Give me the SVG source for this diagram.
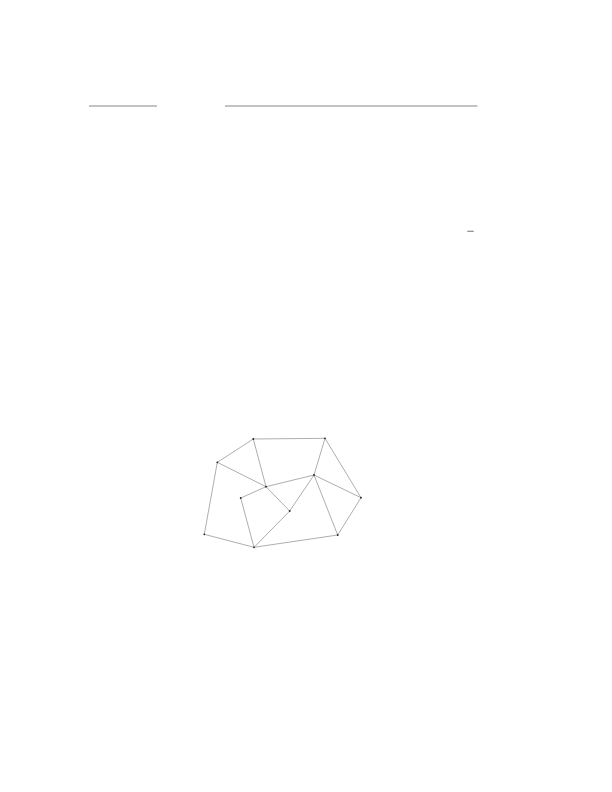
<svg xmlns="http://www.w3.org/2000/svg" width="612" height="792" viewBox="0 0 612 792">
<style>
.rule{stroke:#888;stroke-width:1.2;fill:none}
.e{stroke:#999;stroke-width:0.8;fill:none}
.n{fill:#222}
</style>
<rect width="612" height="792" fill="#fff"/>
<g id="rules">
<line class="rule" x1="89" y1="106" x2="157" y2="106"/>
<line class="rule" x1="225" y1="106" x2="477.5" y2="106"/>
<line class="rule" x1="467.3" y1="231.3" x2="473.7" y2="231.3"/>
</g>
<g id="connectors">
<line class="e" x1="253.3" y1="439" x2="325" y2="438.3"/>
<line class="e" x1="253.3" y1="439" x2="217.3" y2="462.3"/>
<line class="e" x1="253.3" y1="439" x2="266" y2="486.7"/>
<line class="e" x1="325" y1="438.3" x2="314" y2="475"/>
<line class="e" x1="325" y1="438.3" x2="361" y2="497.7"/>
<line class="e" x1="217.3" y1="462.3" x2="266" y2="486.7"/>
<line class="e" x1="217.3" y1="462.3" x2="204.3" y2="534.3"/>
<line class="e" x1="314" y1="475" x2="266" y2="486.7"/>
<line class="e" x1="314" y1="475" x2="361" y2="497.7"/>
<line class="e" x1="314" y1="475" x2="337.7" y2="535"/>
<line class="e" x1="314" y1="475" x2="289.7" y2="511"/>
<line class="e" x1="289.7" y1="511" x2="254" y2="547.3"/>
<line class="e" x1="266" y1="486.7" x2="289.7" y2="511"/>
<line class="e" x1="266" y1="486.7" x2="240.7" y2="498"/>
<line class="e" x1="240.7" y1="498" x2="254" y2="547.3"/>
<line class="e" x1="204.3" y1="534.3" x2="254" y2="547.3"/>
<line class="e" x1="254" y1="547.3" x2="337.7" y2="535"/>
<line class="e" x1="337.7" y1="535" x2="361" y2="497.7"/>
</g>
<g id="nA"><circle class="n" cx="253.3" cy="439" r="0.9"/></g>
<g id="nB"><circle class="n" cx="325" cy="438.3" r="0.9"/></g>
<g id="nC"><circle class="n" cx="217.3" cy="462.3" r="0.9"/></g>
<g id="nD"><circle class="n" cx="314" cy="475" r="0.9"/></g>
<g id="nE"><circle class="n" cx="266" cy="486.7" r="0.9"/></g>
<g id="nF"><circle class="n" cx="240.7" cy="498" r="0.9"/></g>
<g id="nG"><circle class="n" cx="361" cy="497.7" r="0.9"/></g>
<g id="nH"><circle class="n" cx="289.7" cy="511" r="0.9"/></g>
<g id="nI"><circle class="n" cx="204.3" cy="534.3" r="0.9"/></g>
<g id="nJ"><circle class="n" cx="337.7" cy="535" r="0.9"/></g>
<g id="nK"><circle class="n" cx="254" cy="547.3" r="0.9"/></g>
</svg>
